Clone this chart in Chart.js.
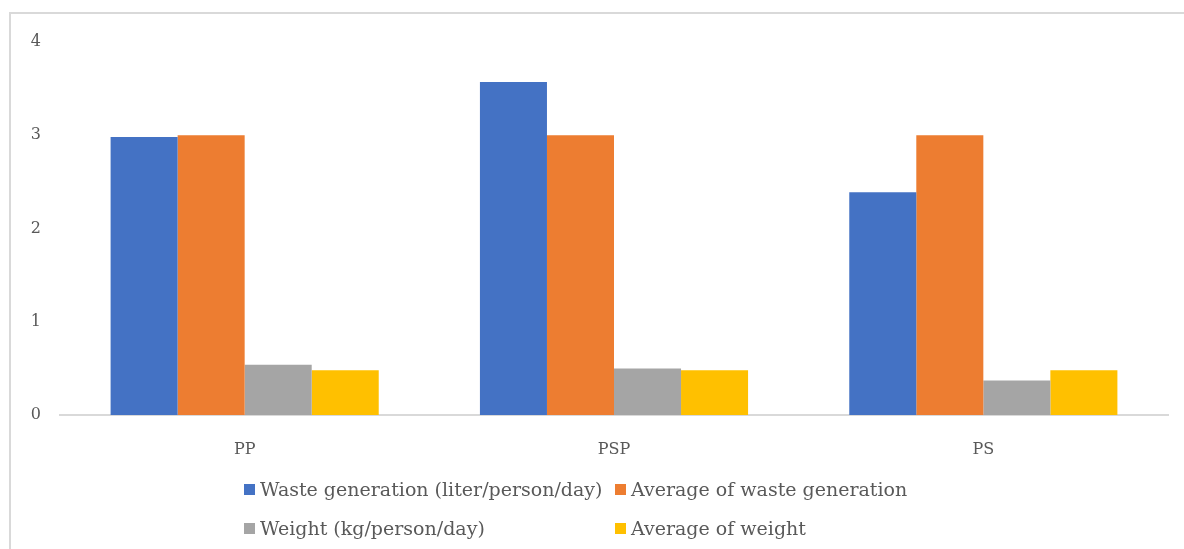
<!DOCTYPE html>
<html><head><meta charset="utf-8">
<script src="https://cdn.jsdelivr.net/npm/chart.js@4/dist/chart.umd.min.js"></script>
<style>
html,body{margin:0;padding:0;background:#fff;overflow:hidden;}
#wrap{position:relative;width:1184px;height:549px;overflow:hidden;}
#frame{position:absolute;left:9px;top:12px;width:1300px;height:700px;border-left:2px solid #d9d9d9;border-top:2px solid #d9d9d9;box-sizing:border-box;}
canvas{position:absolute;left:0;top:0;}
#legend{position:absolute;left:244px;top:477px;display:grid;grid-template-columns:371px auto;row-gap:15px;font-family:"DejaVu Serif",serif;font-size:19px;color:#595959;}
.item{display:flex;align-items:center;white-space:nowrap;height:24px;}
.sw{width:11px;height:11px;margin-right:5px;display:inline-block;}
</style></head>
<body><div id="wrap"><div id="frame"></div><canvas id="c" width="1184" height="549"></canvas><div id="legend"></div></div>
<script>
const categories = ["PP", "PSP", "PS"];
const wasteGeneration = [2.98, 3.57, 2.39];
const avgWasteGeneration = [3.0, 3.0, 3.0];
const weight = [0.54, 0.50, 0.37];
const avgWeight = [0.48, 0.48, 0.48];
const seriesNames = ["Waste generation (liter/person/day)", "Average of waste generation", "Weight (kg/person/day)", "Average of weight"];
const colors = ["#4472c4", "#ed7d31", "#a5a5a5", "#ffc000"];
const yTicks = [0, 1, 2, 3, 4];

const font = {family: "'DejaVu Serif', serif", size: 16};
const series = [wasteGeneration, avgWasteGeneration, weight, avgWeight];
const chart = new Chart(document.getElementById('c'), {
  type: 'bar',
  data: {
    labels: categories,
    datasets: series.map((d, i) => ({label: seriesNames[i], data: d, backgroundColor: colors[i], borderWidth: 0, categoryPercentage: 0.726, barPercentage: 1}))
  },
  options: {
    responsive: false, animation: false,
    layout: {padding: {left: 0, right: 16, top: 42, bottom: 0}},
    plugins: {legend: {display: false}, tooltip: {enabled: false}},
    scales: {
      x: {
        grid: {display: false, drawTicks: false},
        border: {display: true, color: '#d9d9d9', width: 2},
        ticks: {color: '#595959', font: font, padding: 25},
        afterFit: s => { s.height = 134; }
      },
      y: {
        min: 0, max: 4,
        afterBuildTicks: s => { s.ticks = yTicks.map(v => ({value: v})); },
        grid: {display: false, drawTicks: false},
        border: {display: false},
        ticks: {color: '#595959', font: font, padding: 19},
        afterFit: s => { s.width = 60; }
      }
    }
  }
});
const lg = document.getElementById('legend');
chart.data.datasets.forEach(ds => {
  const it = document.createElement('div'); it.className = 'item';
  const sw = document.createElement('span'); sw.className = 'sw'; sw.style.background = ds.backgroundColor;
  it.appendChild(sw); it.appendChild(document.createTextNode(ds.label)); lg.appendChild(it);
});
</script></body></html>
